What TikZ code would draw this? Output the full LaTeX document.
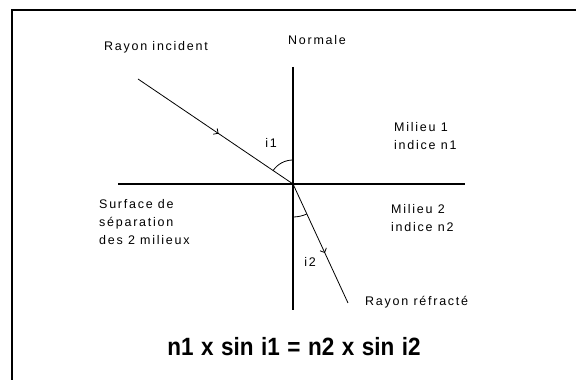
\documentclass[tikz,border=0pt]{standalone}
\usepackage{fontspec}
\setmainfont{Liberation Sans}[LetterSpace=14]
\newfontfamily\eqfont{Liberation Sans}[FakeStretch=0.9,WordSpace=1.2]
\usetikzlibrary{arrows.meta,decorations.markings}
\begin{document}
\begin{tikzpicture}[x=1pt,y=1pt,
  lbl/.style={inner sep=0pt,font=\fontsize{12.5}{18}\selectfont},
  axis/.style={line width=1.2pt},
  ray/.style={line width=0.8pt},
  midarrow/.style={postaction={decorate},decoration={markings,
    mark=at position #1 with {\arrow{Straight Barb[length=3.5pt,width=7pt,line width=0.8pt]}}}},
  anglearc/.style={line width=0.8pt}]
\useasboundingbox (0,0) rectangle (576,380);
\fill[white] (0,0) rectangle (576,380);
% frame
\draw[line width=2pt] (12,0) -- (12,370) -- (576,370);
% axes
\coordinate (O) at (293,196);
\coordinate (ntop) at (293,313);
\coordinate (nbot) at (293,70);
\coordinate (sl) at (118,196);
\coordinate (sr) at (465,196);
\coordinate (inc) at (138,301);
\coordinate (ref) at (348,77);
\draw[axis] (ntop) -- (nbot);
\draw[axis] (sl) -- (sr);
% rays
\draw[ray,midarrow=0.52] (inc) -- (O);
\draw[ray,midarrow=0.58] (O) -- (ref);
% angle arcs
\draw[anglearc] ([shift={(90:24)}]O) arc[start angle=90,end angle=145.9,radius=24];
\draw[anglearc] ([shift={(270:33)}]O) arc[start angle=270,end angle=294.8,radius=33];
% labels
\node[lbl] (tinc) at (156,333) {Rayon incident};
\node[lbl] (tnorm) at (317,340) {Normale};
\node[lbl] (ti1) at (271,237) {i1};
\node[lbl,anchor=north west,align=left] (tm1) at (394,258) {Milieu 1\\indice n1};
\node[lbl,anchor=north west,align=left] (tsurf) at (99,181) {Surface de\\séparation\\des 2 milieux};
\node[lbl,anchor=north west,align=left] (tm2) at (391,176) {Milieu 2\\indice n2};
\node[lbl] (ti2) at (310,118) {i2};
\node[lbl,anchor=west] (tref) at (365,78) {Rayon réfracté};
\node[inner sep=0pt,font=\eqfont\bfseries\fontsize{25}{29}\selectfont] (eq) at (294,33) {n1 x sin i1 = n2 x sin i2};
\end{tikzpicture}
\end{document}
